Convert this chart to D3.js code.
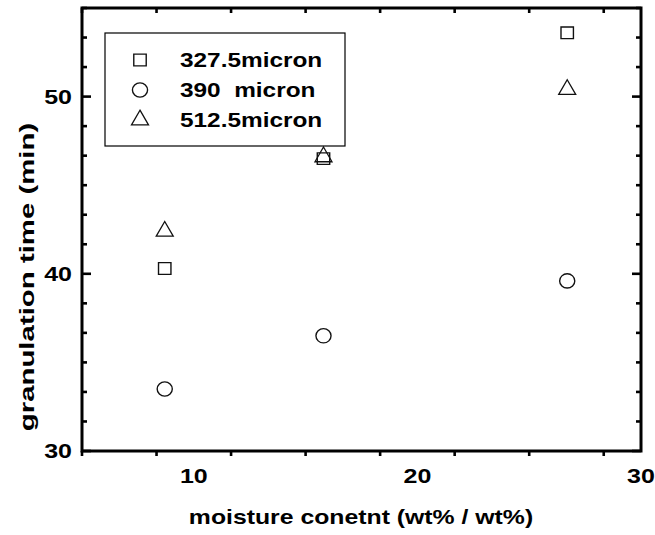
<!DOCTYPE html>
<html><head><meta charset="utf-8">
<script src="https://cdn.jsdelivr.net/npm/d3@7"></script>
<style>body{margin:0;background:#fff}svg{display:block}text{font-family:Arial,"Liberation Sans",sans-serif;font-weight:bold;fill:#000}</style>
</head><body>
<svg id="c" width="655" height="535"></svg>
<script>
const moisture = [8.7, 15.8, 26.7];
const series = ["327.5micron", "390  micron", "512.5micron"];
const symbols = ["square", "circle", "triangle"];
const s327 = [40.3, 46.5, 53.6];
const s390 = [33.5, 36.5, 39.6];
const s512 = [42.4, 46.6, 50.4];
const xTicks = [10, 20, 30];
const yTicks = [30, 40, 50];
const xTitle = "moisture conetnt (wt% / wt%)";
const yTitle = "granulation time (min)";

const svg = d3.select("#c");
const L = 82, R = 641, T = 8, B = 451;
const x = d3.scaleLinear().domain([5, 30]).range([L, R]);
const y = d3.scaleLinear().domain([30, 55]).range([B, T]);

function label(g, tx, ty, str, size, anchor, sx, rot) {
  return g.append("text")
    .attr("transform", `translate(${tx},${ty}) rotate(${rot||0}) scale(${sx},1)`)
    .attr("text-anchor", anchor).style("font-size", size + "px")
    .style("white-space", "pre").text(str);
}

const xMinor = d3.range(0, 8).map(i => 5 + i * 10 / 3).filter(v => v < 30.01);
const yMinor = d3.range(0, 16).map(i => 30 + i * 10 / 6).filter(v => v < 55.01);

const g = svg.append("g");
const tk = g.append("g").attr("stroke", "#000").attr("stroke-width", 2.6);
xMinor.forEach(v => {
  const maj = xTicks.some(m => Math.abs(m - v) < 1e-6);
  const len = maj ? 9 : 5;
  tk.append("line").attr("x1", x(v)).attr("x2", x(v)).attr("y1", B).attr("y2", B + len);
  tk.append("line").attr("x1", x(v)).attr("x2", x(v)).attr("y1", T).attr("y2", T + len);
});
yMinor.forEach(v => {
  const maj = yTicks.some(m => Math.abs(m - v) < 1e-6);
  const len = maj ? 9 : 5;
  tk.append("line").attr("x1", L).attr("x2", L + len).attr("y1", y(v)).attr("y2", y(v));
  tk.append("line").attr("x1", R).attr("x2", R - len).attr("y1", y(v)).attr("y2", y(v));
});
g.append("rect").attr("x", L).attr("y", T).attr("width", R - L).attr("height", B - T)
  .attr("fill", "none").attr("stroke", "#000").attr("stroke-width", 3);

xTicks.forEach(v => label(g, x(v), 483, v, 20, "middle", 1.25));
yTicks.forEach(v => label(g, 72, y(v) + 7, v, 20, "end", 1.25));

label(g, 361, 524, xTitle, 20, "middle", 1.24);
label(g, 34, 277, yTitle, 21, "middle", 1.4, -90);

const sym = {square: d3.symbolSquare, circle: d3.symbolCircle, triangle: d3.symbolTriangle};
const size = {square: 135, circle: 160, triangle: 125};
const sxm = {square: 1.07, circle: 1.06, triangle: 1.0};
const data = [s327, s390, s512];
const mk = g.append("g").attr("fill", "none").attr("stroke", "#111").attr("stroke-width", 1.3);
function marker(px, py, s) {
  const gen = d3.symbol().type(sym[s]).size(size[s]);
  mk.append("path").attr("d", gen()).attr("transform", `translate(${px},${py}) scale(${sxm[s]},1)`);
}
data.forEach((vals, i) => vals.forEach((v, j) => marker(x(moisture[j]), y(v), symbols[i])));

const lg = g.append("g");
lg.append("rect").attr("x", 105).attr("y", 33).attr("width", 240).attr("height", 113)
  .attr("fill", "none").attr("stroke", "#000").attr("stroke-width", 1.2);
series.forEach((s, i) => {
  const cy = 60 + i * 30;
  marker(140, cy, symbols[i]);
  label(lg, 180, cy + 7, s, 19.5, "start", 1.25);
});
</script>
</body></html>
